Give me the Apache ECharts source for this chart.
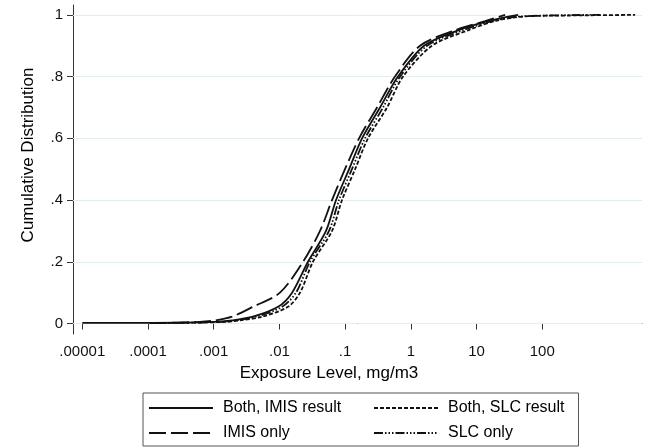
<!DOCTYPE html>
<html>
<head>
<meta charset="utf-8">
<title>Cumulative Distribution</title>
<script src="https://cdn.jsdelivr.net/npm/echarts@6/dist/echarts.min.js"></script>
<style>
    html, body { margin: 0; padding: 0; background: #fff; }
    #chart1 { width: 645px; height: 447px; }
</style>
</head>
<body>
<div id="chart1"></div>
<script>
// exposure level (mg/m3) and cumulative share
var bothImisX = [0.00001, 0.000107, 0.00105, 0.0019, 0.00396, 0.00953, 0.0156, 0.0272, 0.0512, 0.0728, 0.115, 0.181, 0.340, 0.638, 1.59, 5.23, 15.0, 42.9];
var bothImisP = [0.002, 0.002, 0.005, 0.01, 0.022, 0.054, 0.1, 0.2, 0.3, 0.4, 0.5, 0.6, 0.7, 0.8, 0.9, 0.95, 0.98, 1];

var bothSlcX = [0.000107, 0.00149, 0.00251, 0.00543, 0.0135, 0.0206, 0.0324, 0.0632, 0.0897, 0.142, 0.223, 0.435, 0.760, 2.10, 7.43, 19.1, 54.7, 265, 2590];
var bothSlcP = [0.001, 0.005, 0.01, 0.022, 0.054, 0.1, 0.2, 0.3, 0.4, 0.5, 0.6, 0.7, 0.8, 0.9, 0.95, 0.98, 0.995, 0.998, 1];

var imisOnlyX = [0.000107, 0.000618, 0.00105, 0.0019, 0.00396, 0.0102, 0.0229, 0.0415, 0.0632, 0.0995, 0.163, 0.306, 0.574, 1.38, 4.71, 13.5, 27.2];
var imisOnlyP = [0.001, 0.005, 0.01, 0.022, 0.054, 0.1, 0.2, 0.3, 0.4, 0.5, 0.6, 0.7, 0.8, 0.9, 0.95, 0.98, 1];

var slcOnlyX = [0.000128, 0.00116, 0.00211, 0.00441, 0.011, 0.0179, 0.0292, 0.0569, 0.0807, 0.127, 0.201, 0.378, 0.685, 1.77, 6.22, 17.2, 45.9, 759];
var slcOnlyP = [0.001, 0.005, 0.01, 0.022, 0.054, 0.1, 0.2, 0.3, 0.4, 0.5, 0.6, 0.7, 0.8, 0.9, 0.95, 0.98, 0.995, 1];

var xTicks = [0.00001, 0.0001, 0.001, 0.01, 0.1, 1, 10, 100];
var yTicks = [0, 0.2, 0.4, 0.6, 0.8, 1];

var seriesNames = ['Both, IMIS result', 'Both, SLC result', 'IMIS only', 'SLC only'];

function pairs(xs, ps) {
    var out = [];
    for (var i = 0; i < xs.length; i++) {
        out.push([xs[i], ps[i]]);
    }
    return out;
}

// stata style: no leading zero
function noLeadZero(v) {
    return String(v).replace(/^0\./, '.');
}

var mychart = echarts.init(document.getElementById('chart1'), null, { renderer: 'canvas' });

var font = 'Liberation Sans, Arial, sans-serif';

function curve(name, xs, ps, dash) {
    return {
        name: name,
        type: 'line',
        data: pairs(xs, ps),
        symbol: 'none',
        smooth: 0.3,
        z: 3,
        lineStyle: { color: '#111', width: 1.8, type: dash },
        itemStyle: { color: '#111' }
    };
}

var option = {
    backgroundColor: '#fff',
    animation: false,
    grid: { left: 73, right: 3, top: 5, bottom: 113 },
    xAxis: {
        type: 'log',
        logBase: 10,
        min: 7.22e-6,
        max: 3300,
        name: 'Exposure Level, mg/m3',
        nameLocation: 'middle',
        nameGap: 31,
        nameTextStyle: { fontFamily: font, fontSize: 17, color: '#000', padding: [0, 57, 0, 0] },
        axisLine: { show: true, lineStyle: { color: '#333', width: 1 } },
        axisTick: { show: true, length: 6, customValues: xTicks, lineStyle: { color: '#333' } },
        axisLabel: {
            customValues: xTicks,
            margin: 10,
            fontFamily: font,
            fontSize: 15,
            color: '#111',
            formatter: function (v) { return noLeadZero(v); }
        },
        splitLine: { show: false },
        minorTick: { show: false }
    },
    yAxis: {
        type: 'value',
        min: -0.034,
        max: 1.032,
        name: 'Cumulative Distribution',
        nameLocation: 'middle',
        nameGap: 36,
        nameTextStyle: { fontFamily: font, fontSize: 17, color: '#000', padding: [0, 0, 0, 29] },
        axisLine: { show: true, lineStyle: { color: '#333', width: 1 } },
        axisTick: { show: true, length: 6, customValues: yTicks, lineStyle: { color: '#333' } },
        axisLabel: {
            customValues: yTicks,
            margin: 10,
            fontFamily: font,
            fontSize: 15,
            color: '#111',
            formatter: function (v) { return noLeadZero(v); }
        },
        splitLine: { show: false }
    },
    legend: {
        data: ['Both, IMIS result', 'IMIS only', 'Both, SLC result', 'SLC only'],
        orient: 'vertical',
        left: 143,
        top: 393,
        height: 55,
        padding: [6, 14, 4, 5],
        itemGap: 7,
        itemWidth: 64,
        itemHeight: 14,
        borderColor: '#555',
        borderWidth: 1,
        borderRadius: 0,
        selectedMode: false,
        // hide the marker dot, keep the line sample
        itemStyle: { opacity: 0 },
        lineStyle: { opacity: 1 },
        formatter: function (name) {
            if (name === 'Both, IMIS result' || name === 'IMIS only') {
                return '{a|' + name + '}';
            }
            return '{b|' + name + '}';
        },
        textStyle: {
            fontFamily: font,
            fontSize: 16,
            color: '#000',
            lineHeight: 18,
            rich: {
                a: { fontFamily: font, fontSize: 16, color: '#000', lineHeight: 18, width: 143, padding: [0, 0, 0, 5] },
                b: { fontFamily: font, fontSize: 16, color: '#000', lineHeight: 18, padding: [0, 0, 0, 5] }
            }
        }
    },
    series: [
        curve(seriesNames[0], bothImisX, bothImisP, 'solid'),
        curve(seriesNames[1], bothSlcX, bothSlcP, [4, 2]),
        curve(seriesNames[2], imisOnlyX, imisOnlyP, [17, 5]),
        curve(seriesNames[3], slcOnlyX, slcOnlyP, [9, 2, 1.5, 2, 1.5, 2, 1.5, 2]),
        {
            // light grid lines at the y ticks
            type: 'line',
            data: [],
            silent: true,
            z: 1,
            markLine: {
                silent: true,
                z: 1,
                symbol: ['none', 'none'],
                label: { show: false },
                lineStyle: { color: '#e3edee', width: 1, type: 'solid' },
                data: yTicks.map(function (t) { return { yAxis: t }; })
            }
        }
    ]
};

mychart.setOption(option);
</script>
</body>
</html>
